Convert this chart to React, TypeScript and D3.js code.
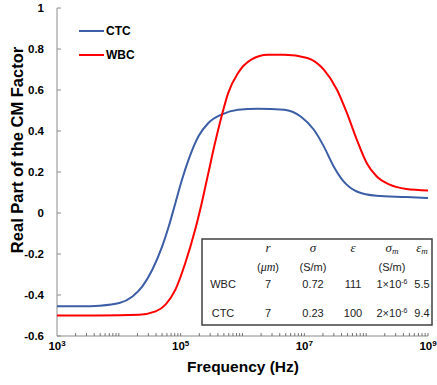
import * as d3 from 'd3';

// ─── Data ───────────────────────────────────────────────────

const ctcLogF = [3.0, 3.4, 3.688, 4.008, 4.221, 4.381, 4.541, 4.701, 4.808, 4.915, 5.021, 5.128, 5.288, 5.448, 5.661, 5.928, 6.248, 6.675, 6.941, 7.155, 7.315, 7.475, 7.635, 7.848, 8.168, 8.648, 9.0];
const ctcCM = [-0.455, -0.455, -0.452, -0.439, -0.407, -0.358, -0.277, -0.163, -0.065, 0.049, 0.162, 0.26, 0.374, 0.439, 0.48, 0.504, 0.509, 0.504, 0.471, 0.406, 0.325, 0.227, 0.154, 0.105, 0.084, 0.078, 0.073];

const wbcLogF = [3.0, 3.688, 4.328, 4.595, 4.755, 4.915, 5.075, 5.235, 5.341, 5.448, 5.555, 5.661, 5.768, 5.928, 6.141, 6.408, 6.675, 7.048, 7.315, 7.528, 7.688, 7.848, 8.008, 8.168, 8.381, 8.648, 9.0];
const wbcCM = [-0.5, -0.5, -0.496, -0.48, -0.447, -0.374, -0.244, -0.081, 0.049, 0.195, 0.341, 0.471, 0.585, 0.683, 0.748, 0.772, 0.772, 0.756, 0.699, 0.601, 0.488, 0.358, 0.244, 0.179, 0.138, 0.117, 0.11];

const yTicks = [1, 0.8, 0.6, 0.4, 0.2, 0, -0.2, -0.4, -0.6];
const xMajorExp = [3, 5, 7, 9];

// table contents
const tableRows = [
  { name: 'WBC', r: '7', sigma: '0.72', eps: '111', sigmaMant: '1', epsM: '5.5' },
  { name: 'CTC', r: '7', sigma: '0.23', eps: '100', sigmaMant: '2', epsM: '9.4' },
];

const FONT = '"Liberation Sans", Arial, sans-serif';
const SERIF = '"Liberation Serif", "Times New Roman", serif';
const BLUE = '#3b5ea6';
const RED = '#ff0000';

export default function App() {
  const W = 437;
  const H = 385;
  const left = 57;
  const right = 428;
  const top = 8;
  const bottom = 336;

  const x = d3.scaleLog().domain([1e3, 1e9]).range([left, right]);
  const y = d3.scaleLinear().domain([-0.6, 1]).range([bottom, top]);

  const line = d3.line<[number, number]>()
    .x((d) => x(Math.pow(10, d[0])))
    .y((d) => y(d[1]))
    .curve(d3.curveMonotoneX);

  const ctcPath = line(ctcLogF.map((f, i) => [f, ctcCM[i]] as [number, number])) || '';
  const wbcPath = line(wbcLogF.map((f, i) => [f, wbcCM[i]] as [number, number])) || '';

  // minor ticks: 2..10 x 10^n
  const minor: number[] = [];
  for (let e = 3; e < 9; e++) {
    for (let m = 2; m <= 10; m++) minor.push(m * Math.pow(10, e));
  }

  const axisColor = '#8c8c8c';

  // table geometry
  const tb = { x0: 202, y0: 239, x1: 432, y1: 325 };
  const col = { name: 223, r: 268, sigma: 313, eps: 353, sigmaM: 392, epsM: 422 };
  const rowY = [288, 317];

  return (
    <svg width={W} height={H} style={{ position: 'absolute', left: 0, top: 0, background: '#fff' }}
      fontFamily={FONT}>
      {/* y axis */}
      <line x1={left} x2={left} y1={top} y2={bottom} stroke={axisColor} strokeWidth={1} />
      {yTicks.map((t) => (
        <g key={t}>
          <line x1={left} x2={left + 4} y1={y(t)} y2={y(t)} stroke={axisColor} />
          <text x={44} y={y(t)} dy="0.36em" textAnchor="end" fontSize={11.5} fontWeight="bold" fill="#000">
            {String(t)}
          </text>
        </g>
      ))}

      {/* x axis */}
      <line x1={left} x2={right} y1={bottom} y2={bottom} stroke={axisColor} strokeWidth={1} />
      {minor.map((v) => (
        <line key={v} x1={x(v)} x2={x(v)} y1={bottom} y2={bottom - 3} stroke="#555" strokeWidth={0.8} />
      ))}
      {xMajorExp.map((e) => (
        <text key={e} x={x(Math.pow(10, e))} y={350} textAnchor="middle" fontSize={11.5} fontWeight="bold">
          10<tspan fontSize={8} dy={-4}>{e}</tspan>
        </text>
      ))}

      {/* curves */}
      <path d={ctcPath} fill="none" stroke={BLUE} strokeWidth={2} />
      <path d={wbcPath} fill="none" stroke={RED} strokeWidth={2} />

      {/* legend */}
      <line x1={79} x2={104} y1={31} y2={31} stroke={BLUE} strokeWidth={2} />
      <text x={106} y={31} dy="0.36em" fontSize={12} fontWeight="bold">CTC</text>
      <line x1={79} x2={104} y1={55} y2={55} stroke={RED} strokeWidth={2} />
      <text x={106} y={55} dy="0.36em" fontSize={12} fontWeight="bold">WBC</text>

      {/* axis titles */}
      <text x={243} y={372} textAnchor="middle" fontSize={15.5} fontWeight="bold">Frequency (Hz)</text>
      <text transform={`translate(23,150) rotate(-90)`} textAnchor="middle" fontSize={16.5} fontWeight="bold">
        Real Part of the CM Factor
      </text>

      {/* parameter table */}
      <rect x={tb.x0} y={tb.y0} width={tb.x1 - tb.x0} height={tb.y1 - tb.y0} fill="#fff" stroke="#404040" strokeWidth={1.5} />
      <g fontSize={11} fill="#222">
        <g fontFamily={SERIF} fontStyle="italic" fontSize={13}>
          <text x={col.r} y={252} textAnchor="middle">r</text>
          <text x={col.sigma} y={252} textAnchor="middle">σ</text>
          <text x={col.eps} y={252} textAnchor="middle">ε</text>
          <text x={col.sigmaM} y={252} textAnchor="middle">
            σ<tspan fontSize={9} dy={2}>m</tspan>
          </text>
          <text x={col.epsM} y={252} textAnchor="middle">
            ε<tspan fontSize={9} dy={2}>m</tspan>
          </text>
        </g>
        <text x={col.r} y={271} textAnchor="middle">
          (<tspan fontFamily={SERIF} fontStyle="italic" fontSize={12}>μm</tspan>)
        </text>
        <text x={col.sigma} y={271} textAnchor="middle">(S/m)</text>
        <text x={col.sigmaM} y={271} textAnchor="middle">(S/m)</text>
        {tableRows.map((r, i) => (
          <g key={r.name}>
            <text x={col.name} y={rowY[i]} textAnchor="middle">{r.name}</text>
            <text x={col.r} y={rowY[i]} textAnchor="middle">{r.r}</text>
            <text x={col.sigma} y={rowY[i]} textAnchor="middle">{r.sigma}</text>
            <text x={col.eps} y={rowY[i]} textAnchor="middle">{r.eps}</text>
            <text x={col.sigmaM} y={rowY[i]} textAnchor="middle">
              {r.sigmaMant}×10<tspan fontSize={7} dy={-4}>-6</tspan>
            </text>
            <text x={col.epsM} y={rowY[i]} textAnchor="middle">{r.epsM}</text>
          </g>
        ))}
      </g>
    </svg>
  );
}
